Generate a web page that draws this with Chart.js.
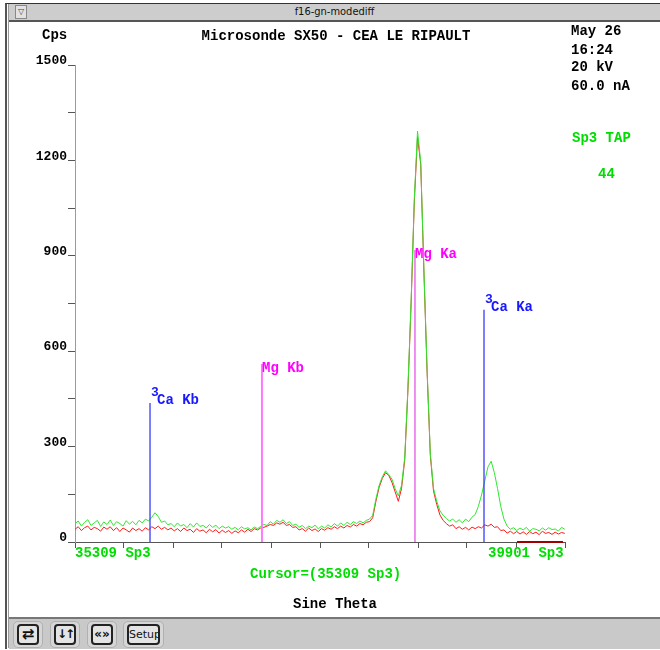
<!DOCTYPE html>
<html><head><meta charset="utf-8">
<script src="https://cdn.jsdelivr.net/npm/chart.js@4.4.1/dist/chart.umd.min.js"></script>
<style>
html,body{margin:0;padding:0;background:#fff;}
body{width:660px;height:650px;position:relative;overflow:hidden;}
#win{position:absolute;left:5px;top:3px;width:660px;height:645px;border-left:2px solid #555;border-top:1px solid #333;background:#fff;}
#win2{position:absolute;left:8px;top:4px;width:660px;height:644px;border-left:1px solid #999;}
#tbar{position:absolute;left:9px;top:4px;width:651px;height:16px;background:#cdcdcd;border-bottom:2px solid #555;}
#tbar .t{position:absolute;left:0;width:100%;top:1px;text-align:center;font:11px "DejaVu Sans Condensed","DejaVu Sans",sans-serif;font-stretch:condensed;color:#111;}
#tbox{position:absolute;left:6px;top:1px;width:10px;height:12px;border:1px solid #888;background:#e2e2e2;font:8px "DejaVu Sans",sans-serif;color:#444;text-align:center;line-height:12px;}
#bbar{position:absolute;left:9px;top:617px;width:651px;height:30px;background:#c9c9c9;border-top:2px solid #777;}
.btn{position:absolute;top:2px;height:25px;background:#d6d6d6;border:1px solid #b0b0b0;border-radius:5px;}
.btn .in{position:absolute;left:3px;top:2px;right:3px;bottom:2px;border:2px solid #222;border-radius:4px;background:#e4e4e4;text-align:center;font:15px "DejaVu Sans",sans-serif;line-height:17px;color:#111;white-space:nowrap;overflow:hidden;}
.txt{position:absolute;font:bold 14px "Liberation Mono",monospace;line-height:14px;white-space:pre;color:#000;}
.g{color:#00dd00;}
canvas{position:absolute;left:0;top:0;}
</style></head>
<body>
<div id="win"></div><div id="win2"></div>
<div id="tbar"><div id="tbox">▽</div><div class="t">f16-gn-modediff</div></div>
<div id="bbar">
 <div class="btn" style="left:4px;width:28px"><div class="in" style="font-weight:bold">⇄</div></div>
 <div class="btn" style="left:41px;width:28px"><div class="in" style="font-weight:bold;font-size:12px;letter-spacing:-2px">↓↑</div></div>
 <div class="btn" style="left:78px;width:28px"><div class="in" style="font-size:12px;font-weight:bold">«»</div></div>
 <div class="btn" style="left:114px;width:39px"><div class="in" style="font:11px 'DejaVu Sans',sans-serif;line-height:17px">Setup</div></div>
</div>
<canvas id="c" width="660" height="650"></canvas>
<div class="txt" style="left:42px;top:28px">Cps</div>
<div class="txt" style="left:136px;top:29px;width:400px;text-align:center">Microsonde SX50 - CEA LE RIPAULT</div>
<div class="txt" style="left:571px;top:24px">May 26</div>
<div class="txt" style="left:571px;top:43px">16:24</div>
<div class="txt" style="left:571px;top:60px">20 kV</div>
<div class="txt" style="left:571px;top:79px">60.0 nA</div>
<div class="txt g" style="left:572px;top:131px">Sp3 TAP</div>
<div class="txt g" style="left:598px;top:167px">44</div>
<div class="txt g" style="left:75px;top:546px">35309 Sp3</div>
<div class="txt g" style="left:488px;top:546px">39901 Sp3</div>
<div class="txt g" style="left:250px;top:567px">Cursor=(35309 Sp3)</div>
<div class="txt" style="left:293px;top:597px">Sine Theta</div>
<script>
// ---- data ----
const X_MIN = 35309, X_MAX = 39901;
const X0 = 35309, XSTEP = 30;
const yTickStep = 150, yLabelStep = 300, Y_MAX = 1500;
const xTickCount = 10;

const greenCounts = [
 58,66,50,62,70,52,60,68,49,63,
 55,69,52,64,58,50,67,56,65,54,
 68,60,72,66,78,92,80,62,66,54,
 58,48,60,50,55,45,58,47,60,49,
 52,44,55,46,53,42,50,44,48,40,
 46,38,48,41,45,38,47,42,49,55,
 52,64,56,68,62,70,58,64,52,56,
 46,52,42,50,45,53,41,50,44,54,
 47,58,50,60,52,62,55,64,58,66,
 60,68,72,84,135,178,205,224,212,198,
 168,145,178,265,485,760,1080,1292,1195,855,
 540,278,168,128,98,84,74,66,72,62,
 70,60,72,64,78,86,112,148,192,236,
 254,218,168,112,72,50,40,45,36,44,
 38,46,34,42,40,35,44,37,45,39,
 41,34,46,40
];
const redCounts = [
 40,48,36,45,50,38,46,42,34,47,
 40,48,36,45,33,44,38,31,44,36,
 42,34,45,38,48,42,50,40,46,38,
 44,35,42,33,44,36,40,30,42,34,
 38,29,40,32,39,28,37,30,36,27,
 35,29,38,31,40,33,42,38,44,46,
 50,55,52,60,56,62,52,55,46,48,
 38,42,34,44,36,41,33,42,37,45,
 40,48,42,50,44,52,47,55,50,58,
 54,62,64,76,128,172,200,218,210,188,
 158,128,168,258,478,752,1072,1275,1188,848,
 532,272,160,118,85,68,58,50,54,42,
 48,40,46,38,47,42,48,44,54,50,
 56,46,48,36,38,28,34,26,33,25,
 32,24,33,26,31,23,34,27,30,24,
 31,25,30,27
];
const markerNames = ["Ca Kb", "Mg Kb", "Mg Ka", "Ca Ka"];
const markerSup = ["3", "", "", "3"];
const markerPositions = [36012, 37061, 38495, 39142];
const markerHeights = [437, 560, 918, 730];
const bgRange = [39451, 39882];

// ---- styles ----
const markerStyle = {
 "Ca Kb": {line: "#3a3aff", text: "#1818ff", width: 1.3},
 "Mg Kb": {line: "#ff78ff", text: "#ff00ff", width: 2},
 "Mg Ka": {line: "#dd22dd", text: "#ff00ff", width: 1},
 "Ca Ka": {line: "#3a3aff", text: "#1818ff", width: 1.3}
};

const toPts = arr => arr.map((v, i) => ({x: X0 + i * XSTEP, y: v}));
const xTicks = [];
for (let i = 0; i <= xTickCount; i++) xTicks.push(X_MIN + (X_MAX - X_MIN) * i / xTickCount);

const markerSets = markerNames.map((n, i) => ({
 data: [{x: markerPositions[i], y: 0}, {x: markerPositions[i], y: markerHeights[i]}],
 borderColor: markerStyle[n].line, borderWidth: markerStyle[n].width,
 pointRadius: 0, tension: 0
}));

const labelPlugin = {
 id: 'markerLabels',
 afterDatasetsDraw(chart) {
  const {ctx, scales: {x, y}} = chart;
  ctx.save();
  ctx.textBaseline = 'alphabetic';
  markerNames.forEach((n, i) => {
   const px = Math.round(x.getPixelForValue(markerPositions[i]));
   const py = Math.round(y.getPixelForValue(markerHeights[i]));
   ctx.fillStyle = markerStyle[n].text;
   let tx = px, base = py + 8;
   if (markerSup[i]) {
    base = py + 1;
    ctx.font = 'bold 13px "Liberation Mono", monospace';
    ctx.fillText(markerSup[i], px + 1, base - 8);
    tx = px + 7;
   }
   ctx.font = 'bold 14px "Liberation Mono", monospace';
   ctx.fillText(n, tx, base);
  });
  ctx.restore();
 }
};

new Chart(document.getElementById('c'), {
 type: 'line',
 data: {
  datasets: [
   ...markerSets,
   {data: toPts(greenCounts), borderColor: '#2ee82e', borderWidth: 1, pointRadius: 0, tension: 0},
   {data: toPts(redCounts), borderColor: '#ff1a1a', borderWidth: 1, pointRadius: 0, tension: 0},
   {data: [{x: bgRange[0], y: 0}, {x: bgRange[1], y: 0}], borderColor: '#a00000', borderWidth: 2, pointRadius: 0, clip: false}
  ]
 },
 options: {
  responsive: false, animation: false, devicePixelRatio: 1, events: [],
  layout: {padding: {left: 35, top: 65, right: 95, bottom: 98}},
  plugins: {legend: {display: false}, tooltip: {enabled: false}, title: {display: false}},
  scales: {
   x: {
    type: 'linear', min: X_MIN, max: X_MAX,
    afterBuildTicks: s => { s.ticks = xTicks.map(v => ({value: v})); },
    afterFit: s => { s.height = 10; },
    ticks: {display: false},
    grid: {drawOnChartArea: false, drawTicks: true, tickLength: 6, color: '#555', tickColor: '#555'},
    border: {display: true, color: '#555', width: 1}
   },
   y: {
    type: 'linear', min: 0, max: Y_MAX,
    afterFit: s => { s.width = 40; },
    ticks: {
     stepSize: yTickStep, autoSkip: false, padding: 1, labelOffset: -4, color: '#000',
     font: {family: '"Liberation Mono", monospace', weight: 'bold', size: 13},
     callback: v => (v % yLabelStep === 0 ? String(v) : '')
    },
    grid: {drawOnChartArea: false, drawTicks: true, tickLength: 7, color: '#555', tickColor: '#555'},
    border: {display: true, color: '#2ee82e', width: 1}
   }
  }
 },
 plugins: [labelPlugin]
});
</script>
</body></html>
